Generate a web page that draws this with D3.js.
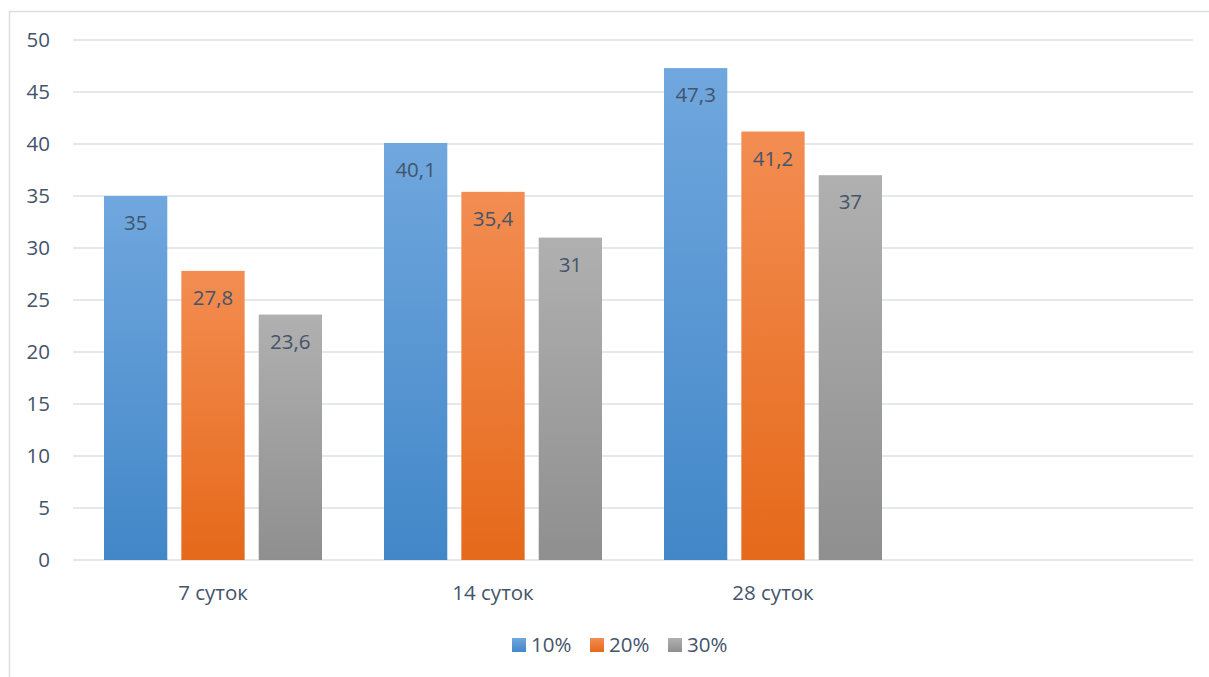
<!DOCTYPE html>
<html><head><meta charset="utf-8">
<script src="https://cdn.jsdelivr.net/npm/d3@7"></script>
<style>body{margin:0;background:#fff}svg{display:block}text{font-family:"Open Sans","Noto Sans",sans-serif}</style>
</head><body><svg id="c" width="1209" height="677"></svg>
<script>
const categories = ["7 суток", "14 суток", "28 суток", ""];
const series = ["10%", "20%", "30%"];
const values10 = [35, 40.1, 47.3];
const values20 = [27.8, 35.4, 41.2];
const values30 = [23.6, 31, 37];
const yTicks = [0, 5, 10, 15, 20, 25, 30, 35, 40, 45, 50];
const colorsTop = ["#70a7de", "#f38d52", "#b0b0b0"];
const colorsBottom = ["#4287c8", "#e5691a", "#8f8f8f"];

const data = [values10, values20, values30];
const svg = d3.select("#c");
const txt = "#44546a";
const fs = 20.5;

svg.append("rect").attr("x", 9.5).attr("y", 11.5).attr("width", 1220).attr("height", 700)
  .attr("fill", "#fff").attr("stroke", "#dadee4").attr("stroke-width", 1.5);

const defs = svg.append("defs");
series.forEach((s, i) => {
  const g = defs.append("linearGradient").attr("id", "g" + i)
    .attr("x1", 0).attr("y1", 0).attr("x2", 0).attr("y2", 1);
  g.append("stop").attr("offset", "0%").attr("stop-color", colorsTop[i]);
  g.append("stop").attr("offset", "100%").attr("stop-color", colorsBottom[i]);
});

const y = d3.scaleLinear().domain([0, 50]).range([560, 40]);
const x0 = d3.scaleBand().domain(categories).range([73, 1193]).paddingInner(0.2214).paddingOuter(0.1107);
const x1 = d3.scaleBand().domain(series).range([0, x0.bandwidth()]).paddingInner(0.1818);

svg.append("g").selectAll("line").data(yTicks).join("line")
  .attr("x1", 73).attr("x2", 1193).attr("y1", d => y(d)).attr("y2", d => y(d))
  .attr("stroke", "#dde1e7").attr("stroke-width", 1.5);

svg.append("g").selectAll("text").data(yTicks).join("text")
  .attr("x", 50).attr("y", d => y(d)).attr("dy", "0.35em").attr("text-anchor", "end")
  .attr("fill", txt).attr("font-size", fs).text(d => d);

const cats = categories.slice(0, 3);
cats.forEach((c, ci) => {
  series.forEach((s, si) => {
    const v = data[si][ci];
    const bx = x0(c) + x1(s);
    svg.append("rect").attr("x", bx).attr("y", y(v)).attr("width", x1.bandwidth())
      .attr("height", y(0) - y(v)).attr("fill", "url(#g" + si + ")");
    svg.append("text").attr("x", bx + x1.bandwidth() / 2).attr("y", y(v) + 27).attr("dy", "0.35em")
      .attr("text-anchor", "middle").attr("fill", txt).attr("font-size", fs)
      .text(String(v).replace(".", ","));
  });
  svg.append("text").attr("x", x0(c) + x0.bandwidth() / 2).attr("y", 593).attr("dy", "0.35em")
    .attr("text-anchor", "middle").attr("fill", txt).attr("font-size", fs).text(c);
});

const legX = [512, 590, 668];
series.forEach((s, i) => {
  svg.append("rect").attr("x", legX[i]).attr("y", 638).attr("width", 14).attr("height", 14).attr("fill", "url(#g" + i + ")");
  svg.append("text").attr("x", legX[i] + 19).attr("y", 645).attr("dy", "0.35em")
    .attr("fill", txt).attr("font-size", fs).text(s);
});
</script></body></html>
